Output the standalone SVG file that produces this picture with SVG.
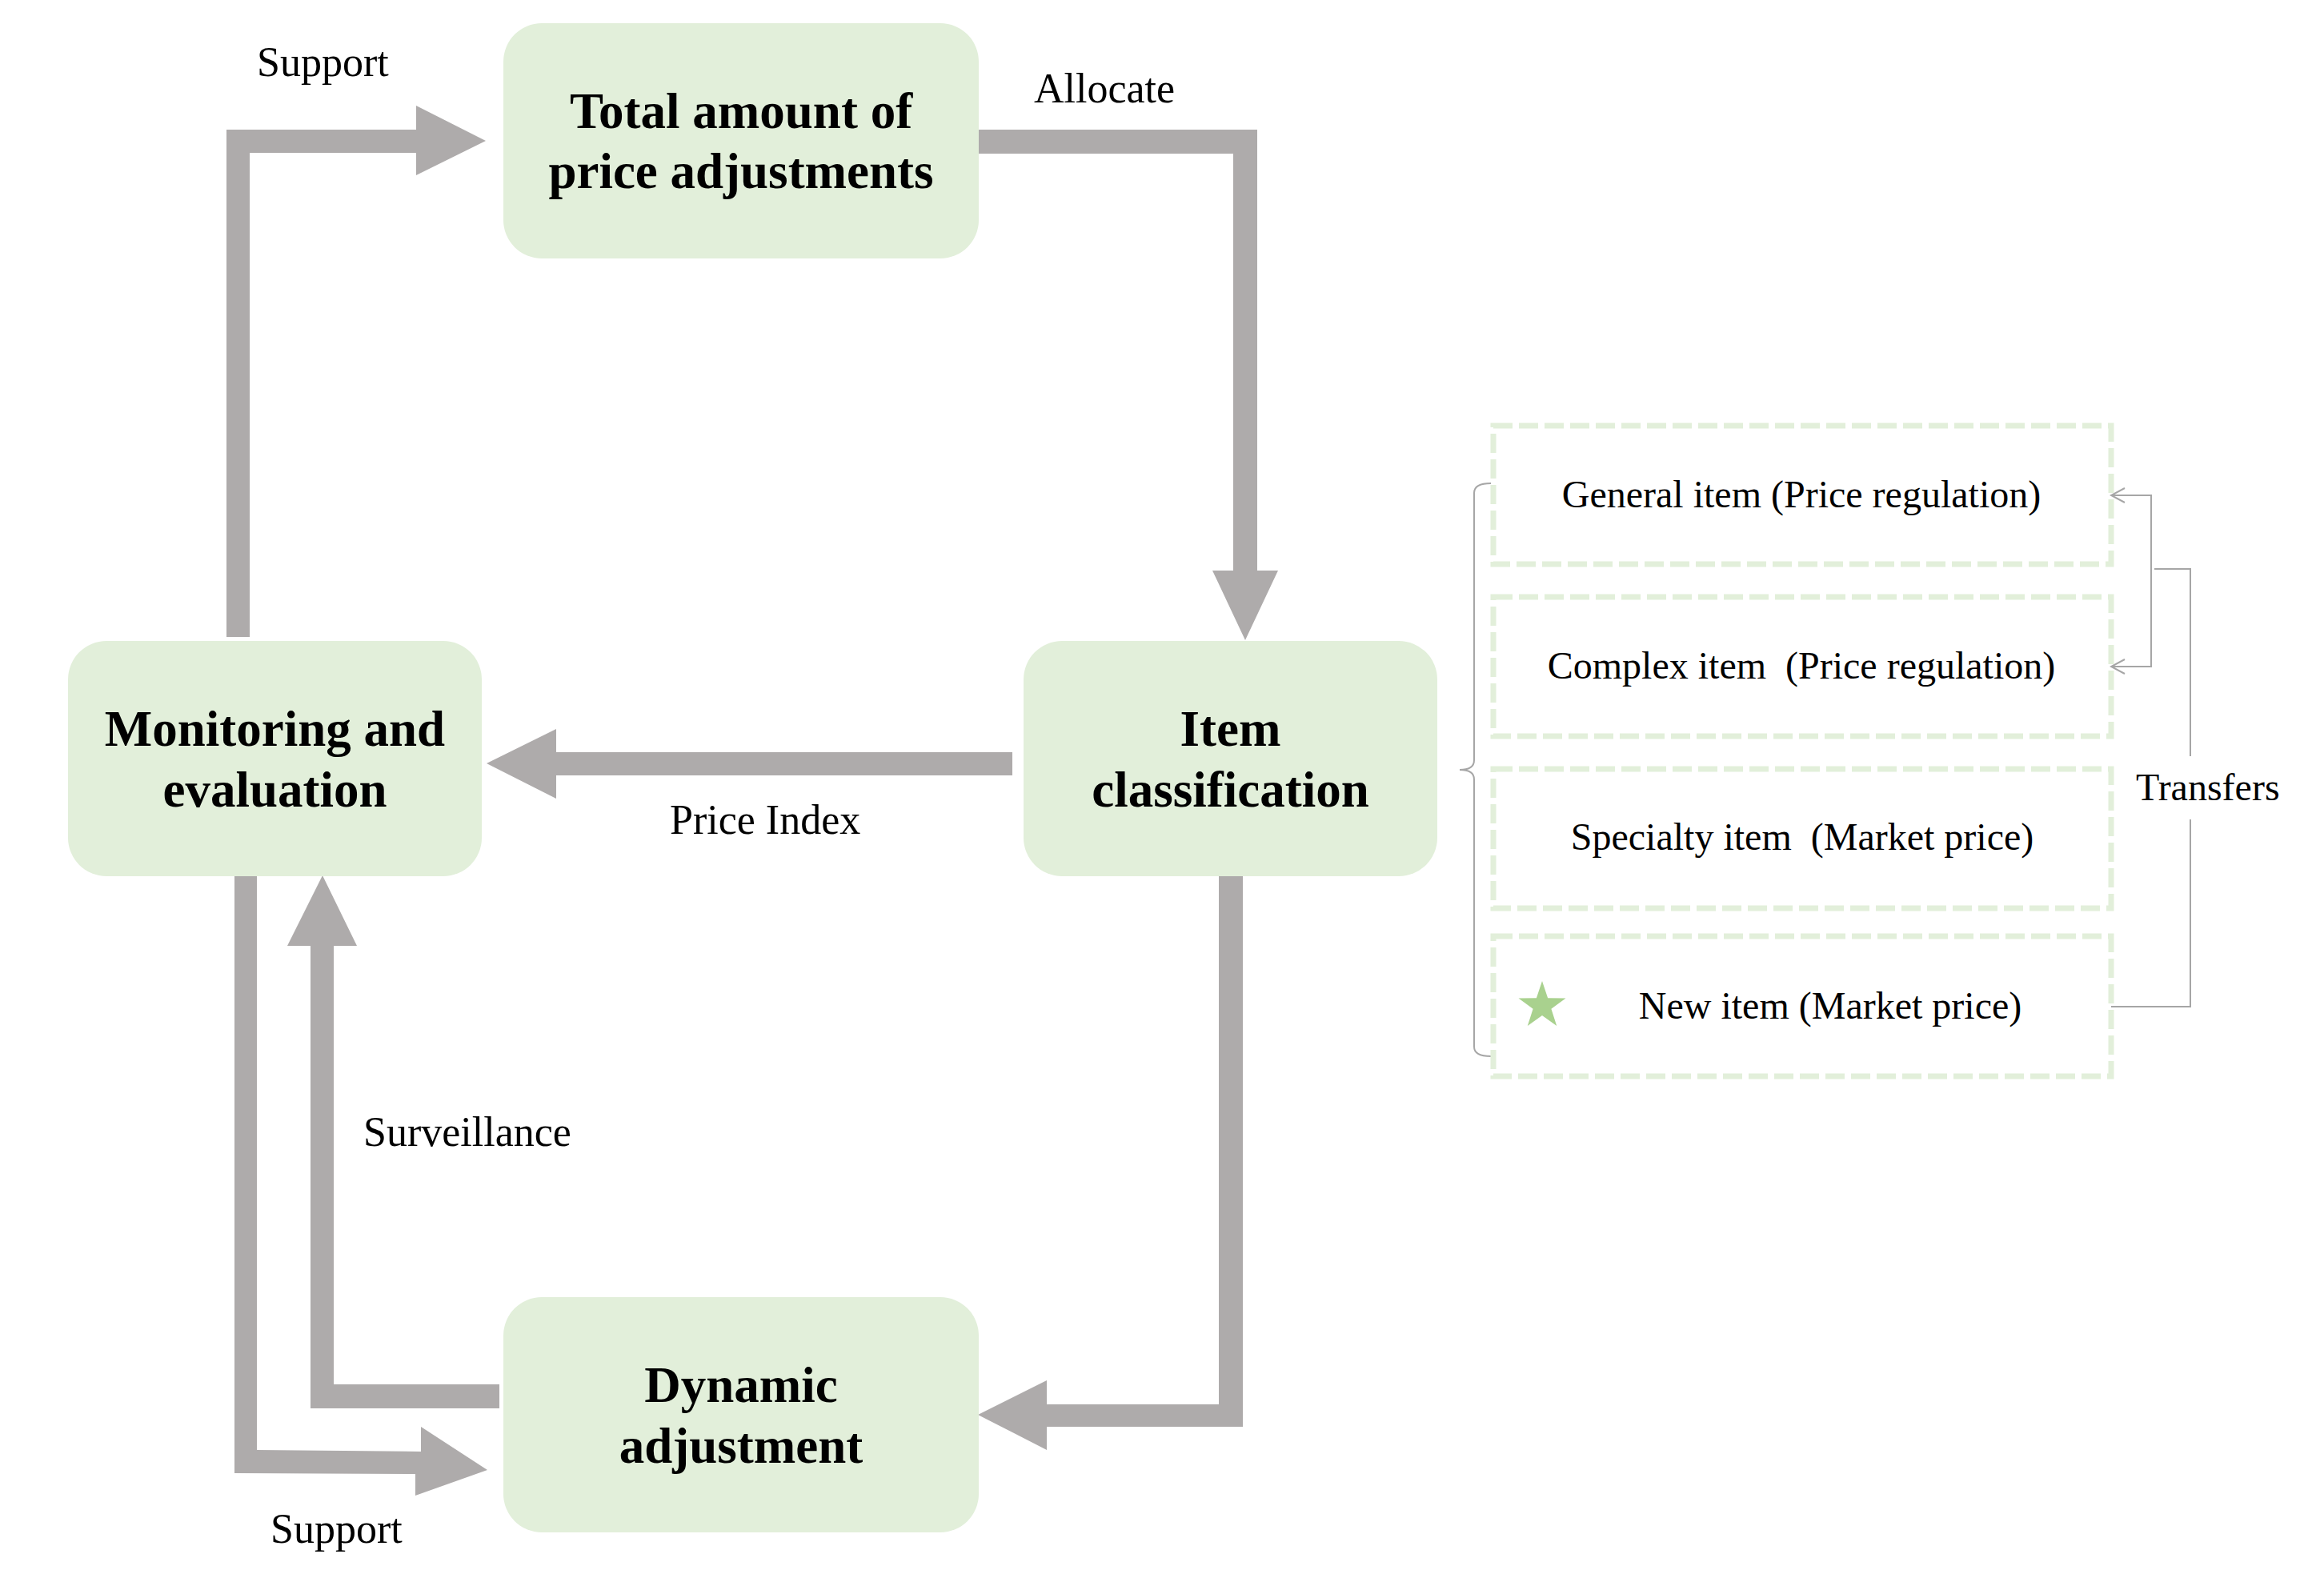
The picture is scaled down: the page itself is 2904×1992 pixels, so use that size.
<svg xmlns="http://www.w3.org/2000/svg" width="2904" height="1992" viewBox="0 0 2904 1992">
<defs>
<style>
.node{fill:#E2EFDA;}
.ntext{font-family:"Liberation Serif","Times New Roman",serif;font-weight:bold;font-size:63px;fill:#000;text-anchor:middle;}
.lbl{font-family:"Liberation Serif","Times New Roman",serif;font-size:52px;fill:#000;}
.itext{font-family:"Liberation Serif","Times New Roman",serif;font-size:48px;fill:#000;text-anchor:middle;white-space:pre;}
.arrow{fill:#AEABAB;}
.dbox{fill:none;stroke:#E2EFDA;stroke-width:7;stroke-dasharray:24 8;}
.thin{fill:none;stroke:#A6A6A6;stroke-width:2;}
</style>
<marker id="chev" markerUnits="userSpaceOnUse" markerWidth="22" markerHeight="22" viewBox="0 0 22 22" refX="20" refY="11" orient="auto-start-reverse">
<path d="M3,2 L20,11 L3,20" fill="none" stroke="#A6A6A6" stroke-width="2"/>
</marker>
</defs>
<rect width="2904" height="1992" fill="#FFFFFF"/>

<g id="connectors">
<polygon class="arrow" points="283,796 283,162 520,162 520,132 607,176 520,219 520,191 312,191 312,796"/>
<polygon class="arrow" points="1223,162 1571,162 1571,713 1597,713 1556,800 1515,713 1541,713 1541,192 1223,192"/>
<polygon class="arrow" points="1265,940 695,940 695,911 608,954 695,998 695,969 1265,969"/>
<polygon class="arrow" points="1523,1095 1553,1095 1553,1783 1308,1783 1308,1812 1222,1768 1308,1725 1308,1755 1523,1755"/>
<polygon class="arrow" points="624,1730 417,1730 417,1182 446,1182 403,1094 359,1182 388,1182 388,1760 624,1760"/>
<polygon class="arrow" points="293,1095 321,1095 321,1812 526,1814 526,1783 609,1837 519,1869 519,1842 293,1841"/>
<path class="thin" d="M1863,604 Q1842,604 1842,616 L1842,950 Q1842,962 1824,962 Q1842,962 1842,974 L1842,1308 Q1842,1320 1863,1320"/>
<path class="thin" d="M2638,619 L2688,619 L2688,833 L2638,833" marker-start="url(#chev)" marker-end="url(#chev)"/>
<path class="thin" d="M2692,711 L2737,711 L2737,945 M2737,1024 L2737,1258 L2638,1258"/>
</g>

<g id="labels">
<text class="lbl" x="321" y="95">Support</text>
<text class="lbl" x="1292" y="128">Allocate</text>
<text class="lbl" x="837" y="1042">Price Index</text>
<text class="lbl" x="454" y="1432">Surveillance</text>
<text class="lbl" x="338" y="1928">Support</text>
<text class="lbl" x="2669" y="1000" style="font-size:48px">Transfers</text>
</g>

<g id="node-total">
<rect class="node" x="629" y="29" width="594" height="294" rx="48" ry="48"/>
<text class="ntext" x="926" y="160">Total amount of</text>
<text class="ntext" x="926" y="235">price adjustments</text>
</g>

<g id="node-monitoring">
<rect class="node" x="85" y="801" width="517" height="294" rx="48" ry="48"/>
<text class="ntext" x="343.5" y="932">Monitoring and</text>
<text class="ntext" x="343.5" y="1008">evaluation</text>
</g>

<g id="node-item">
<rect class="node" x="1279" y="801" width="517" height="294" rx="48" ry="48"/>
<text class="ntext" x="1537.5" y="932">Item</text>
<text class="ntext" x="1537.5" y="1008">classification</text>
</g>

<g id="node-dynamic">
<rect class="node" x="629" y="1621" width="594" height="294" rx="48" ry="48"/>
<text class="ntext" x="926" y="1752">Dynamic</text>
<text class="ntext" x="926" y="1828">adjustment</text>
</g>

<g id="item-general">
<rect class="dbox" x="1866" y="532" width="772" height="173"/>
<text class="itext" x="2251" y="634">General item (Price regulation)</text>
</g>

<g id="item-complex">
<rect class="dbox" x="1866" y="746" width="772" height="174"/>
<text class="itext" x="2251" y="848" xml:space="preserve">Complex item  (Price regulation)</text>
</g>

<g id="item-specialty">
<rect class="dbox" x="1866" y="961" width="772" height="174"/>
<text class="itext" x="2252" y="1062" xml:space="preserve">Specialty item  (Market price)</text>
</g>

<g id="item-new">
<rect class="dbox" x="1866" y="1170" width="772" height="175"/>
<polygon fill="#A9D18E" points="1927,1226 1934.1,1247.3 1956.5,1247.4 1938.4,1260.7 1945.2,1282.1 1927,1269 1908.8,1282.1 1915.6,1260.7 1897.5,1247.4 1919.9,1247.3"/>
<text class="itext" x="2287" y="1273">New item (Market price)</text>
</g>
</svg>
